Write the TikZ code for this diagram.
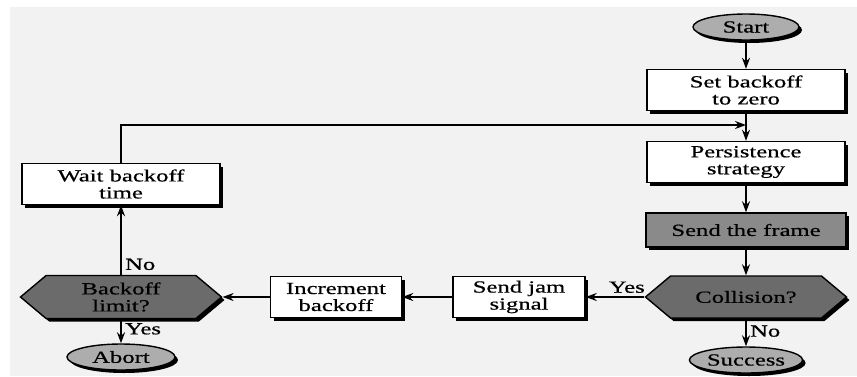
\documentclass[tikz,border=0pt]{standalone}
\usepackage{fontspec}
\setmainfont{Liberation Serif}[FakeStretch=1.45, FakeBold=0.6]
\usetikzlibrary{shapes,arrows.meta,shadows}
\definecolor{panel}{gray}{0.95}
\definecolor{termgray}{gray}{0.68}
\definecolor{busygray}{gray}{0.54}
\definecolor{askgray}{gray}{0.42}
\tikzstyle{boxshadow} = [drop shadow={shadow xshift=3pt, shadow yshift=-3pt, fill=black, opacity=1}]
\tikzstyle{process}  = [rectangle, draw, fill=white, text centered, align=center, line width=1.4pt, minimum width=198pt, minimum height=41pt, boxshadow]
\tikzstyle{busy}     = [process, fill=busygray, minimum width=200pt, minimum height=34pt]
\tikzstyle{decision} = [signal, signal to=west and east, signal pointer angle=80, draw, fill=askgray, text centered, align=center, line width=1.4pt, minimum width=201pt, minimum height=42pt, boxshadow]
\tikzstyle{terminal} = [ellipse, draw, fill=termgray, text centered, line width=1.4pt, inner sep=1pt, minimum height=26pt, boxshadow]
\tikzstyle{flow} = [draw, line width=1.6pt]

\begin{document}
\begin{tikzpicture}[x=1pt, y=-1pt, >={Stealth[length=11pt,width=8pt]}, font=\fontsize{17}{17}\selectfont]
            \useasboundingbox (0,0) rectangle (857,376);
            \fill[white] (0,0) rectangle (857,376);
            \fill[panel] (10,7) rectangle (857,376);

            \node[terminal, minimum width=106pt] (start) at (746,27) {Start};
            \node[process, below of=start, node distance=63pt] (reset) {Set backoff\\to zero};
            \node[process, below of=reset, node distance=72pt] (persist) {Persistence\\strategy};
            \node[busy, below of=persist, node distance=68pt] (send) {Send the frame};
            \node[decision, below of=send, node distance=67pt] (collision) {Collision?};
            \node[terminal, below of=collision, node distance=63pt, minimum width=100pt] (success) {Success};
            \node[process, left of=collision, node distance=227pt, minimum width=132pt] (jam) {Send jam\\signal};
            \node[process, left of=jam, node distance=183pt, minimum width=131pt] (increment) {Increment\\backoff};
            \node[decision, left of=increment, node distance=215pt, minimum height=43pt] (limit) {Backoff\\limit?};
            \node[process, above of=limit, node distance=113pt] (wait) {Wait backoff\\time};
            \node[terminal, below of=limit, node distance=60pt, minimum width=108pt] (abort) {Abort};
            \coordinate[below of=reset, node distance=35pt] (rejoin);

            \path [flow, ->] (start) -- (reset);
            \path [flow, ->] (reset) -- (persist);
            \path [flow, ->] (persist) -- (send);
            \path [flow, ->] (send) -- (collision);
            \path [flow, ->] (collision.south) -- node[right, pos=0.45] {No} (success.north);
            \path [flow, ->] (collision.west) -- node[above, pos=0.3] {Yes} (jam.east);
            \path [flow, ->] (jam.west) -- (increment.east);
            \path [flow, ->] (increment.west) -- (limit.east);
            \path [flow, ->] (limit.north) -- node[right, pos=0.15] {No} (wait.south);
            \path [flow, ->] (limit.south) -- node[right, pos=0.4] {Yes} (abort.north);
            \path [flow, ->] (wait.north) |- (rejoin);
        \end{tikzpicture}
\end{document}
